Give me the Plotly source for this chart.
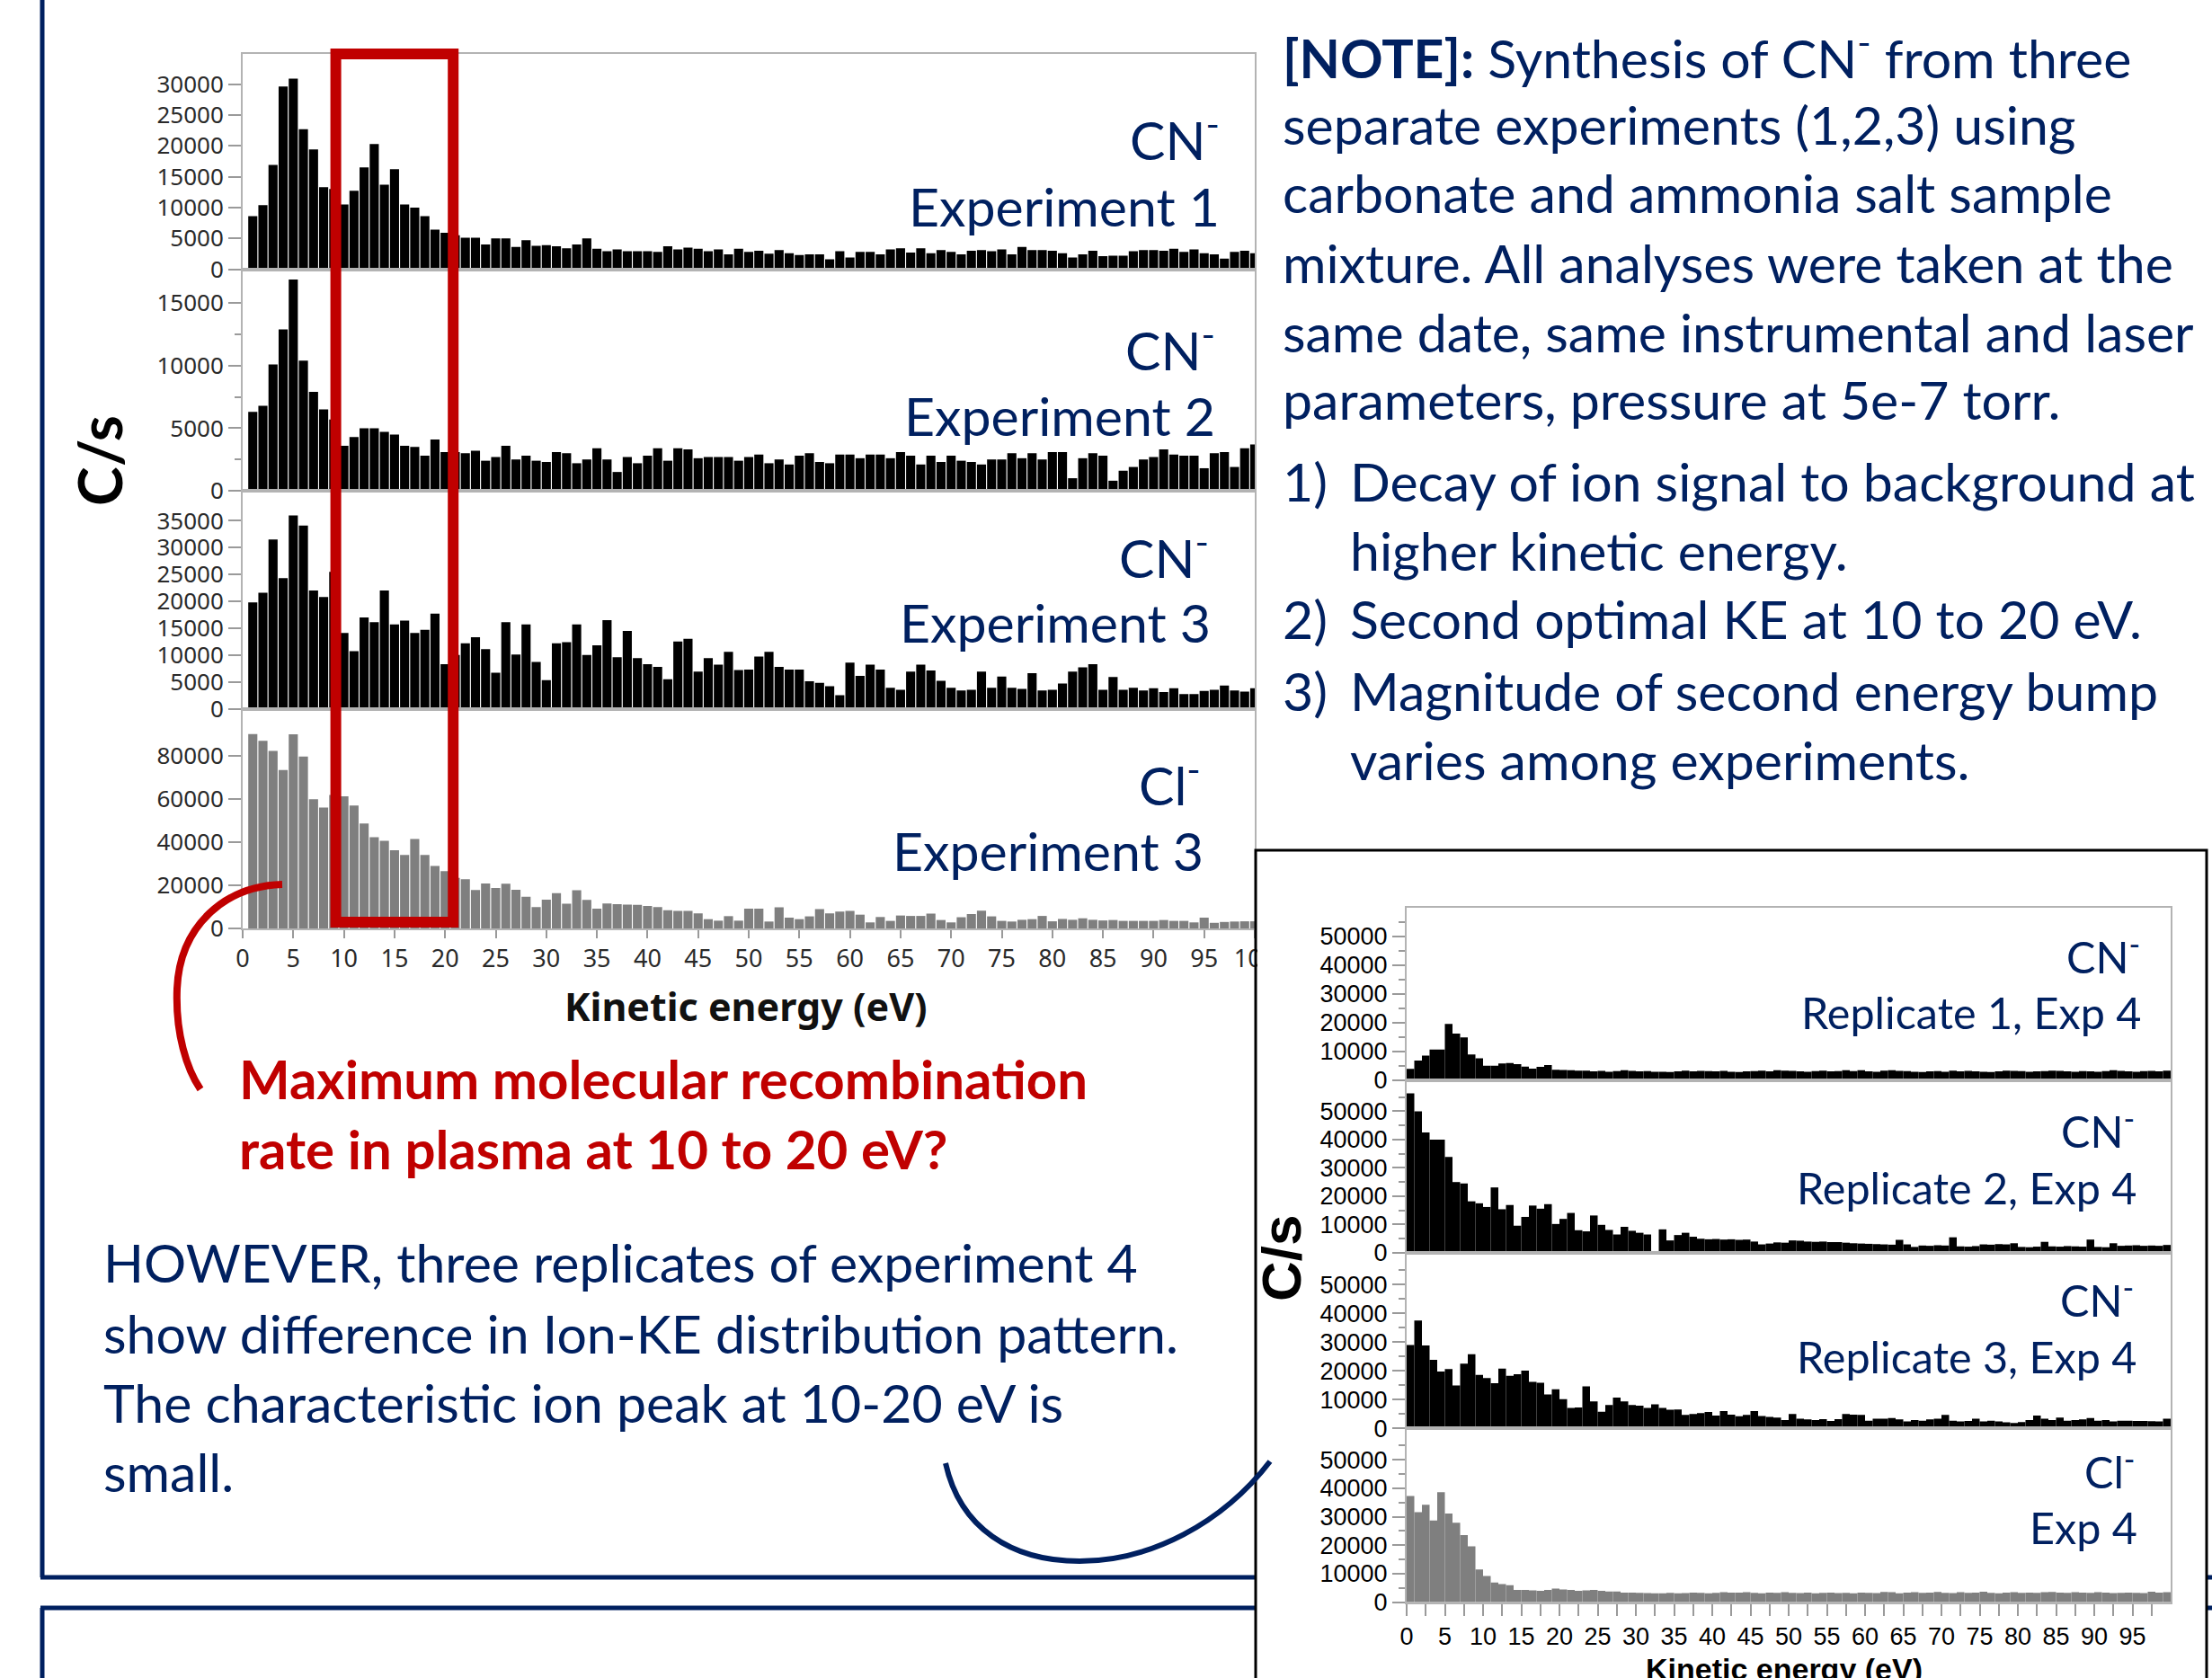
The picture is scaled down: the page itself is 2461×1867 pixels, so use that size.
import plotly.graph_objects as go

W, H = 2461, 1867

# ---------------- data ----------------
ke_main = list(range(1, 101))                 # kinetic energy bins (eV), main panel
ke_inset = [k - 0.5 for k in range(1, 101)]   # kinetic energy bins (eV), inset

cn_exp1 = [8600, 10400, 16900, 29600, 30900, 22700, 19400, 13300, 13000, 10500,
           12700, 16500, 20300, 13700, 16200, 10500, 10000, 8600, 6400, 5900,
           5500, 5100, 5100, 4000, 5000, 5000, 3600, 4700, 3800, 3900,
           3700, 3400, 4000, 5000, 3300, 2900, 3200, 2900, 2900, 2900,
           2800, 3700, 3200, 3500, 3300, 2900, 3200, 2400, 3300, 2800,
           3000, 2500, 3100, 2600, 2300, 2400, 2400, 1600, 2900, 1900,
           2800, 2800, 2400, 3200, 3400, 2700, 3400, 2600, 3100, 2800,
           2400, 3000, 3100, 2900, 3200, 2400, 3600, 3100, 3100, 3000,
           2600, 1900, 2400, 3000, 2100, 2200, 2200, 2900, 3100, 3100,
           3000, 3300, 2800, 3200, 2600, 2400, 1700, 2800, 3000, 2600]

cn_exp2 = [6300, 6800, 10100, 12900, 16900, 10400, 7900, 6500, 5700, 3600,
           4300, 5000, 5000, 4700, 4500, 3600, 3500, 2800, 4100, 3100,
           3100, 3000, 3200, 2400, 2700, 3600, 2500, 2800, 2400, 2300,
           3100, 3000, 2200, 2500, 3400, 2500, 1500, 2700, 2200, 2800,
           3400, 2400, 3400, 3300, 2600, 2700, 2700, 2700, 2400, 2700,
           2900, 2200, 2500, 2100, 2800, 3000, 2300, 2200, 2900, 2900,
           2600, 2900, 2900, 2600, 3100, 2800, 2100, 2800, 2300, 2800,
           2400, 2300, 2100, 2500, 2500, 3000, 2600, 3000, 2500, 3100,
           3100, 1000, 2600, 3000, 2800, 800, 1600, 1900, 2500, 2700,
           3300, 2900, 2800, 2800, 1800, 3000, 3100, 1900, 3400, 3700]

cn_exp3 = [19800, 21600, 31500, 24300, 36000, 34100, 22000, 20800, 25500, 14100,
           10700, 17000, 16100, 22000, 15700, 16400, 14100, 14700, 17700, 8300,
           10000, 12200, 13300, 11100, 6700, 16100, 10100, 15700, 8700, 5300,
           12200, 12400, 15700, 10000, 11800, 16500, 9600, 14500, 9400, 8300,
           7800, 5500, 12500, 13000, 6900, 9400, 8200, 10600, 7200, 7300,
           9700, 10600, 7800, 7300, 7300, 5100, 4800, 4200, 2500, 8600,
           6100, 8200, 7300, 3900, 3500, 6900, 8200, 7100, 5200, 3900,
           3400, 3500, 6900, 3900, 6000, 3900, 3700, 6600, 3400, 3500,
           4700, 6900, 7700, 8300, 3500, 5900, 3500, 3900, 3400, 3800,
           3100, 3800, 2700, 2700, 3300, 3500, 4300, 3400, 3200, 3800]

cl_exp3 = [90200, 87100, 82400, 73500, 90100, 79800, 60000, 56100, 62000, 61300,
           57100, 48700, 42300, 40700, 36300, 34100, 41500, 34100, 29000, 26600,
           23500, 22800, 17800, 20900, 18800, 20800, 17900, 14700, 9900, 13300,
           16400, 11500, 17700, 13200, 9200, 11600, 11300, 11100, 10900, 10400,
           9900, 8400, 8100, 8100, 7000, 4300, 3600, 5700, 3600, 9200,
           9200, 3200, 9800, 5000, 4300, 5600, 9000, 7000, 7800, 8100,
           6400, 2800, 5300, 3500, 6000, 5800, 5800, 6900, 3900, 2800,
           5200, 6700, 8200, 5600, 3500, 3200, 4000, 4300, 5800, 3300,
           4400, 4000, 4700, 4000, 3700, 3900, 3500, 3500, 3500, 3500,
           3900, 3500, 3500, 2800, 5000, 2600, 3000, 3200, 3300, 3300]

cn_rep1_exp4 = [3900, 6800, 8500, 10600, 10600, 19500, 16200, 14800, 8900, 7600,
                5000, 5000, 5800, 5900, 5500, 4700, 4000, 4600, 5200, 3600,
                3500, 3400, 3300, 3300, 3000, 3200, 2900, 3100, 3400, 3200,
                3000, 3100, 2900, 2900, 2800, 3000, 3300, 3000, 3200, 3100,
                3000, 3200, 2900, 2800, 3000, 3100, 3300, 3000, 3400, 3300,
                3200, 3000, 2900, 3100, 3300, 3000, 3100, 3400, 3100, 3400,
                3000, 2900, 3300, 3400, 3200, 3100, 2900, 2800, 3000, 3100,
                2900, 3300, 3000, 3200, 3000, 2900, 2800, 3000, 3300, 3200,
                3100, 2900, 3000, 3100, 3300, 3200, 3000, 2900, 3100, 3000,
                2900, 3100, 3400, 3200, 3000, 2900, 3100, 3200, 3000, 3300]

cn_rep2_exp4 = [56300, 50000, 42500, 40000, 40000, 33900, 25000, 24500, 18200, 17500,
                16200, 23100, 15400, 16900, 9600, 12700, 16700, 15600, 17200, 10200,
                12000, 14100, 8000, 7600, 13200, 9900, 8100, 6500, 9200, 7800,
                7100, 6500, 200, 8300, 4400, 6300, 7100, 5700, 5000, 4800,
                4900, 4700, 4800, 4600, 4700, 4000, 3000, 3300, 3700, 3600,
                4400, 4300, 4000, 3900, 4000, 3800, 3800, 3600, 3400, 3300,
                3200, 3100, 3000, 2900, 4600, 3000, 2100, 2600, 2500, 2700,
                2600, 5500, 2300, 2200, 2400, 3000, 2900, 3100, 3000, 3400,
                2100, 2000, 2200, 3900, 2300, 2200, 2400, 2300, 2200, 4700,
                2100, 2000, 3400, 2500, 2600, 2700, 2500, 2600, 2500, 2800]

cn_rep3_exp4 = [29000, 37500, 28800, 23800, 19800, 20600, 14900, 22500, 25800, 18600,
                17500, 15700, 20800, 18300, 18800, 20100, 16200, 15900, 11800, 13600,
                10200, 7100, 7300, 14600, 9400, 5800, 8100, 10700, 9400, 8100,
                7900, 7100, 8400, 7100, 6500, 6600, 4700, 5000, 5300, 5700,
                4500, 6000, 4800, 4200, 4700, 6000, 4300, 4000, 3800, 2900,
                5000, 3400, 3100, 2900, 3200, 2600, 3200, 5000, 4800, 4700,
                2700, 3400, 3400, 3600, 3100, 2400, 2900, 2700, 3100, 3400,
                4700, 2700, 2400, 2600, 3400, 2400, 2700, 2400, 2100, 1900,
                2200, 2900, 4500, 3400, 2900, 3800, 2700, 2900, 3100, 3600,
                2700, 2900, 2400, 2700, 2700, 2600, 2600, 2500, 2400, 3400]

cl_exp4 = [37300, 31600, 34200, 28700, 38600, 31100, 27900, 23600, 19600, 11500,
           9200, 6900, 6400, 6000, 4300, 4300, 4200, 4000, 4300, 4800,
           4500, 4300, 4000, 4200, 4300, 4000, 3800, 3800, 3400, 3400,
           3300, 3200, 3100, 3100, 3300, 3100, 3200, 3400, 3300, 3100,
           3300, 3500, 3400, 3400, 3500, 3300, 3100, 3400, 3300, 3500,
           3300, 3200, 3400, 3100, 3300, 3400, 3200, 3300, 3100, 3400,
           3300, 3200, 3600, 3500, 3100, 3400, 3500, 3300, 3400, 3600,
           3300, 3200, 3500, 3300, 3400, 3700, 3300, 3100, 3400, 3500,
           3300, 3400, 3300, 3500, 3600, 3400, 3300, 3500, 3400, 3300,
           3500, 3400, 3200, 3300, 3400, 3300, 3200, 3700, 3400, 3500]

main_x_ticks = list(range(0, 101, 5))
inset_x_ticks = list(range(0, 96, 5))
inset_x_minor = [v + 2.5 for v in range(0, 100, 5)]
p1_ticks = list(range(0, 30001, 5000))
p2_ticks = [0, 5000, 10000, 15000]
p2_minor = [2500, 7500, 12500]
p3_ticks = list(range(0, 35001, 5000))
p4_ticks = [0, 20000, 40000, 60000, 80000]
inset_y_ticks = list(range(0, 50001, 10000))
inset_y_minor = list(range(5000, 55001, 10000))

# ---------------- styling ----------------
NAVY = "#002060"
RED = "#C00000"
FRAME = "#b3b3b3"
TICKC = "#9a9a9a"
GRAY_BAR = "#7f7f7f"
TXT_FONT = "Lato"


def fx(px):
    return px / W


def fy(py):
    return 1 - py / H


fig = go.Figure()
layout = {}

main_panels = [
    (cn_exp1, "#000000", 60, 299.5, 34900, p1_ticks, []),
    (cn_exp2, "#000000", 299.5, 546, 17720, p2_ticks, p2_minor),
    (cn_exp3, "#000000", 546, 788.5, 40600, p3_ticks, []),
    (cl_exp3, GRAY_BAR, 788.5, 1033, 102000, p4_ticks, []),
]
inset_panels = [
    (cn_rep1_exp4, "#000000", 1009.5, 1201.7, 60100),
    (cn_rep2_exp4, "#000000", 1201.7, 1394, 61000),
    (cn_rep3_exp4, "#000000", 1394, 1589.3, 61000),
    (cl_exp4, GRAY_BAR, 1589.3, 1782.7, 61000),
]

idx = 0
for i, (vals, col, top, bot, ymax, yt, ym) in enumerate(main_panels):
    idx += 1
    xn = "x" if idx == 1 else f"x{idx}"
    yn = "y" if idx == 1 else f"y{idx}"
    fig.add_trace(go.Bar(x=ke_main, y=vals, width=0.9, marker=dict(color=col, line=dict(width=0)),
                         xaxis=xn, yaxis=yn, hoverinfo="skip"))
    last = i == len(main_panels) - 1
    xa = dict(domain=[fx(270), fx(1396)], range=[0, 100], anchor=yn, showgrid=False, zeroline=False,
              showline=True, mirror=True, linecolor=FRAME, linewidth=2, automargin=False,
              showticklabels=last, ticks="outside" if last else "",
              tickvals=main_x_ticks, ticklen=9, tickwidth=2, tickcolor=TICKC,
              tickfont=dict(family="Noto Sans", size=27, color="#2a2a2a"))
    ya = dict(domain=[fy(bot), fy(top)], range=[0, ymax], anchor=xn, showgrid=False, zeroline=False,
              showline=True, mirror=True, linecolor=FRAME, linewidth=2, automargin=False,
              tickvals=yt, tickformat="d", ticks="outside", ticklen=14, tickwidth=2, tickcolor=TICKC,
              tickfont=dict(family="Noto Sans", size=26, color="#2a2a2a"))
    if ym:
        ya["minor"] = dict(tickvals=ym, ticks="outside", ticklen=7, tickwidth=2, tickcolor=TICKC)
    layout["xaxis" if idx == 1 else f"xaxis{idx}"] = xa
    layout["yaxis" if idx == 1 else f"yaxis{idx}"] = ya

for i, (vals, col, top, bot, ymax) in enumerate(inset_panels):
    idx += 1
    xn, yn = f"x{idx}", f"y{idx}"
    fig.add_trace(go.Bar(x=ke_inset, y=vals, width=1.0, marker=dict(color=col, line=dict(width=0)),
                         xaxis=xn, yaxis=yn, hoverinfo="skip"))
    last = i == len(inset_panels) - 1
    xa = dict(domain=[fx(1565), fx(2415)], range=[0, 100], anchor=yn, showgrid=False, zeroline=False,
              showline=True, mirror=True, linecolor=FRAME, linewidth=2, automargin=False,
              showticklabels=last, ticks="outside" if last else "",
              tickvals=inset_x_ticks, ticklen=13, tickwidth=2, tickcolor=TICKC,
              tickfont=dict(family="Liberation Sans", size=27, color="#000000"))
    if last:
        xa["minor"] = dict(tickvals=inset_x_minor, ticks="outside", ticklen=13, tickwidth=2, tickcolor=TICKC)
    ya = dict(domain=[fy(bot), fy(top)], range=[0, ymax], anchor=xn, showgrid=False, zeroline=False,
              showline=True, mirror=True, linecolor=FRAME, linewidth=2, automargin=False,
              tickvals=inset_y_ticks, tickformat="d", ticks="outside", ticklen=14, tickwidth=2,
              tickcolor=TICKC, tickfont=dict(family="Liberation Sans", size=27, color="#000000"),
              minor=dict(tickvals=inset_y_minor, ticks="outside", ticklen=7, tickwidth=2, tickcolor=TICKC))
    layout[f"xaxis{idx}"] = xa
    layout[f"yaxis{idx}"] = ya

# ---------------- shapes ----------------
shapes = []


def pline(x0, y0, x1, y1, color, width, layer="below"):
    shapes.append(dict(type="line", xref="paper", yref="paper", x0=fx(x0), y0=fy(y0), x1=fx(x1), y1=fy(y1),
                       line=dict(color=color, width=width), layer=layer))


def ppath(pts, color, width, layer="above"):
    (x0, y0) = pts[0]
    d = f"M {fx(x0)},{fy(y0)}"
    rest = pts[1:]
    for j in range(0, len(rest), 3):
        c = rest[j:j + 3]
        d += " C " + " ".join(f"{fx(a)},{fy(b)}" for a, b in c)
    shapes.append(dict(type="path", xref="paper", yref="paper", path=d,
                       line=dict(color=color, width=width), layer=layer))


# navy poster frames
pline(47, -5, 47, 1755, NAVY, 5)
pline(45, 1755, W + 5, 1755, NAVY, 5)
pline(47, 1789, 47, H + 5, NAVY, 5)
pline(45, 1789, W + 5, 1789, NAVY, 5)
# inset box (white fill below the traces, border above)
shapes.append(dict(type="rect", xref="paper", yref="paper", x0=fx(1397), x1=fx(2455), y0=fy(H + 20), y1=fy(946),
                   fillcolor="white", line=dict(width=0), layer="below"))
shapes.append(dict(type="rect", xref="paper", yref="paper", x0=fx(1399), x1=fx(1450), y0=fy(1095), y1=fy(1048),
                   fillcolor="white", line=dict(width=0), layer="above"))
shapes.append(dict(type="rect", xref="paper", yref="paper", x0=fx(1397), x1=fx(2455), y0=fy(H + 20), y1=fy(946),
                   fillcolor="rgba(0,0,0,0)", line=dict(color="#000000", width=3), layer="above"))
# red highlight box (10-20 eV)
shapes.append(dict(type="rect", xref="x", yref="paper", x0=9.2, x1=20.8, y0=fy(1026), y1=fy(60),
                   fillcolor="rgba(0,0,0,0)", line=dict(color=RED, width=12), layer="above"))
# curved pointers
ppath([(314, 984), (250, 986), (200, 1030), (197, 1100), (195, 1150), (208, 1190), (223, 1212)], RED, 8)
ppath([(1052, 1628), (1068, 1700), (1125, 1737), (1201, 1737), (1280, 1737), (1360, 1695), (1413, 1626)], NAVY, 6)

# ---------------- text ----------------
ann = []


def txt(s, x, y, size, color=NAVY, family=TXT_FONT, xanchor="left", yanchor="middle", weight=400, angle=0):
    ann.append(dict(text=s, x=fx(x), y=fy(y), xref="paper", yref="paper", showarrow=False,
                    xanchor=xanchor, yanchor=yanchor, textangle=angle,
                    font=dict(size=size, color=color, family=family, weight=weight)))


CN = "CN<sup>-</sup>"
CL = "Cl<sup>-</sup>"
for s, x, y in [(CN, 1359, 151), ("Experiment 1", 1359, 229), (CN, 1354, 385), ("Experiment 2", 1354, 462),
                (CN, 1347, 617), ("Experiment 3", 1349, 693), (CL, 1338, 869), ("Experiment 3", 1341, 946)]:
    txt(s, x, y, 59, xanchor="right")

for s, x, y in [(CN, 2383, 1061), ("Replicate 1, Exp 4", 2384, 1126), (CN, 2377, 1255),
                ("Replicate 2, Exp 4", 2379, 1321), (CN, 2376, 1443), ("Replicate 3, Exp 4", 2379, 1509),
                (CL, 2377, 1634), ("Exp 4", 2380, 1699)]:
    txt(s, x, y, 48.5, xanchor="right")

note_lines = ["<b>[NOTE]:</b> Synthesis of CN<sup>-</sup> from three",
              "separate experiments (1,2,3) using",
              "carbonate and ammonia salt sample",
              "mixture. All analyses were taken at the",
              "same date, same instrumental and laser",
              "parameters, pressure at 5e-7 torr."]
for s, y in zip(note_lines, [61, 138, 215, 292, 369, 444]):
    txt(s, 1425, y, 59)

items = [("1)", "Decay of ion signal to background at", 535), ("", "higher kinetic energy.", 612),
         ("2)", "Second optimal KE at 10 to 20 eV.", 689), ("3)", "Magnitude of second energy bump", 768),
         ("", "varies among experiments.", 845)]
for num, s, y in items:
    if num:
        txt(num, 1425, y, 59)
    txt(s, 1500, y, 59)

txt("Maximum molecular recombination", 264, 1200, 60, color=RED, weight=700)
txt("rate in plasma at 10 to 20 eV?", 264, 1278, 60, color=RED, weight=700)

for s, y in zip(["HOWEVER, three replicates of experiment 4",
                 "show difference in Ion-KE distribution pattern.",
                 "The characteristic ion peak at 10-20 eV is",
                 "small."], [1404, 1483, 1560, 1637]):
    txt(s, 113, y, 59)

txt("C/s", 110, 513, 66, color="#000000", weight=700, xanchor="center", angle=-90)
txt("Kinetic energy (eV)", 830, 1119, 43, color="#111111", family="Noto Sans", weight=700, xanchor="center")
txt("C/s", 1425, 1400, 62, color="#000000", family="Liberation Sans", weight=700, xanchor="center", angle=-90)
txt("Kinetic energy (eV)", 1985, 1836, 34, color="#000000", family="Liberation Sans", weight=700,
    xanchor="center", yanchor="top")

fig.update_layout(width=W, height=H, margin=dict(l=0, r=0, t=0, b=0, pad=0), template="none",
                  paper_bgcolor="white", plot_bgcolor="rgba(0,0,0,0)", showlegend=False,
                  shapes=shapes, annotations=ann, **layout)

fig.write_html("out.html", config={"displayModeBar": False},
               post_script="document.body.style.margin='0px';")
